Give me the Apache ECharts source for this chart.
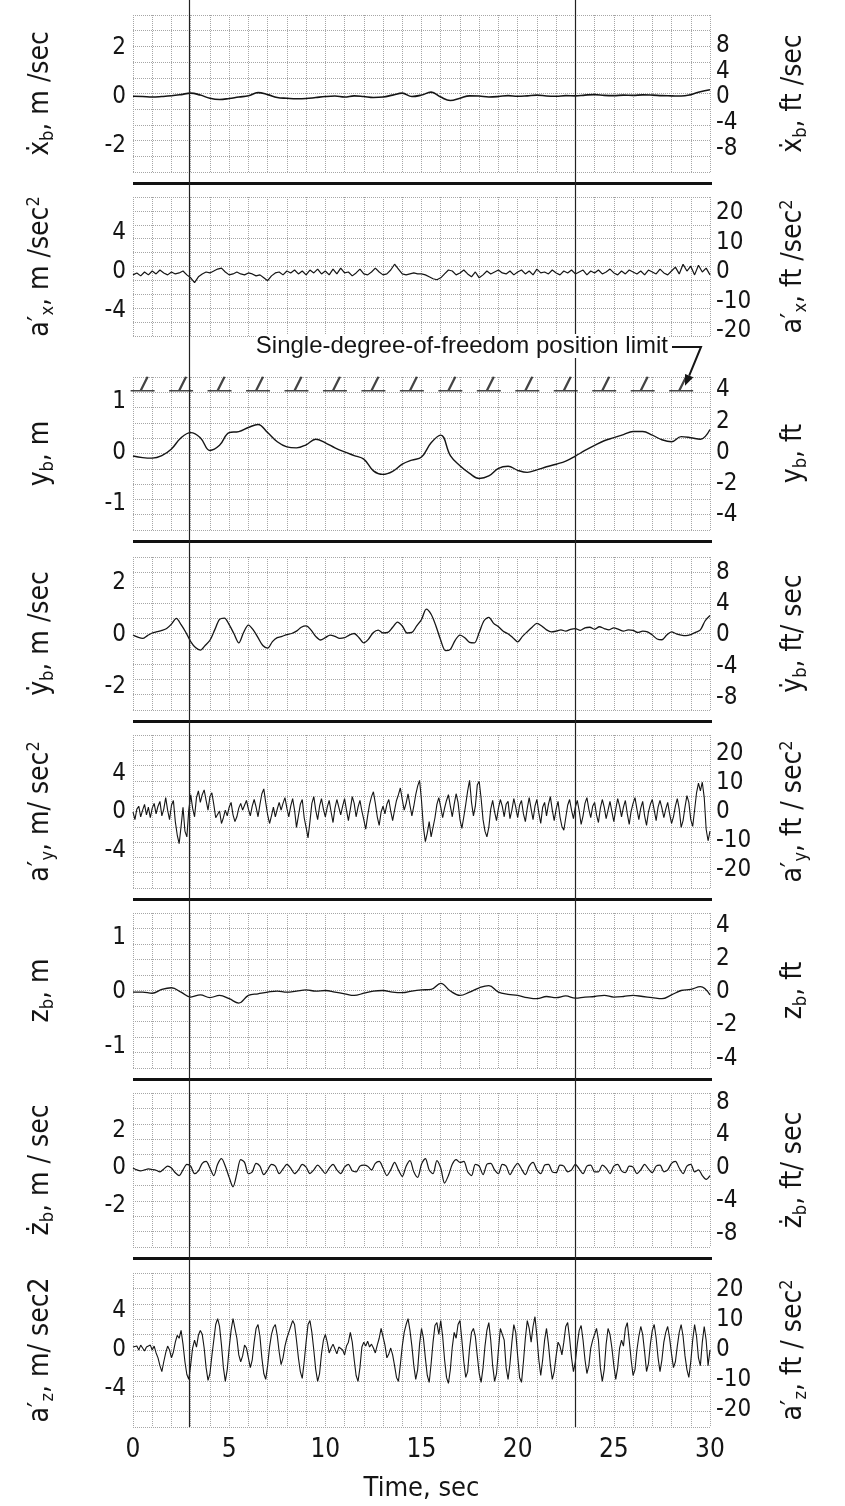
<!DOCTYPE html>
<html><head><meta charset="utf-8">
<script src="https://cdn.jsdelivr.net/npm/echarts@6/dist/echarts.min.js"></script>
<style>html,body{margin:0;padding:0;background:#fff}#c{width:845px;height:1506px}</style>
</head><body><div id="c"></div>
<script>
// ---------- data ----------
const timeTicks = [0, 5, 10, 15, 20, 25, 30];
const eventTimes = [2.9, 23.0];
const limitTimes = [0.5, 2.5, 4.5, 6.5, 8.5, 10.5, 12.5, 14.5, 16.5, 18.5, 20.5, 22.5, 24.5, 26.5, 28.5];
const positionLimit = 1.22; // m (4 ft)

const xbDotStep = 0.5;
const xbDot = [0.03,0.02,0.0,0.02,0.05,0.1,0.16,0.08,-0.05,-0.1,
 -0.06,0.0,0.05,0.18,0.1,-0.02,-0.05,-0.07,-0.06,-0.02,
 0.02,0.04,0.0,0.05,0.02,-0.02,0.0,0.08,0.16,0.02,
 0.08,0.2,0.0,-0.14,-0.05,0.05,0.04,0.0,0.02,0.06,
 0.03,0.05,0.08,0.04,0.03,0.06,0.05,0.08,0.1,0.07,
 0.06,0.08,0.07,0.09,0.08,0.06,0.05,0.04,0.1,0.22,
 0.3];

const axPrimeStep = 0.2;
const axPrime = [-0.3,-0.1,-0.4,0.0,-0.3,0.1,-0.2,0.2,-0.1,-0.3,0.0,
 -0.2,-0.1,0.1,-0.3,-0.6,-1.1,-0.5,-0.2,0.0,-0.1,
 0.1,0.3,0.4,0.0,-0.3,-0.2,0.0,-0.2,-0.3,-0.1,
 -0.2,-0.4,-0.3,-0.6,-0.9,-0.4,-0.1,0.0,-0.3,0.1,
 -0.1,0.2,-0.2,0.1,-0.3,0.2,-0.1,0.3,-0.2,0.1,
 -0.3,0.3,-0.2,0.4,-0.1,0.0,-0.4,-0.1,0.3,-0.2,
 -0.3,0.0,0.4,0.0,-0.3,-0.2,0.2,0.8,0.3,-0.2,
 -0.3,-0.2,-0.1,-0.2,-0.2,-0.3,-0.5,-0.7,-0.8,-0.6,
 -0.2,0.2,0.1,-0.3,-0.1,0.2,-0.2,-0.5,0.0,-0.6,
 -0.3,0.1,-0.2,0.0,0.2,-0.1,-0.2,0.1,-0.3,0.0,
 0.2,-0.2,0.1,-0.3,0.3,-0.1,0.0,-0.2,0.2,-0.1,
 -0.3,0.1,-0.1,0.2,-0.2,0.0,0.2,-0.3,0.1,-0.1,
 0.2,-0.2,0.0,0.3,-0.1,-0.3,0.1,-0.2,0.2,0.0,
 -0.2,0.1,-0.3,0.2,0.0,-0.2,0.3,-0.1,-0.3,0.1,
 0.5,-0.2,0.8,0.1,0.6,-0.3,0.7,0.0,0.4,-0.3];

const ybStep = 0.5;
const yb = [-0.06,-0.09,-0.1,-0.05,0.08,0.3,0.4,0.3,0.05,0.15,
 0.4,0.42,0.5,0.56,0.4,0.22,0.12,0.1,0.16,0.27,
 0.2,0.1,0.02,-0.05,-0.12,-0.35,-0.42,-0.36,-0.22,-0.14,
 -0.08,0.2,0.35,-0.05,-0.25,-0.4,-0.5,-0.45,-0.3,-0.26,
 -0.34,-0.38,-0.33,-0.27,-0.22,-0.16,-0.06,0.05,0.15,0.24,
 0.3,0.36,0.42,0.42,0.35,0.26,0.22,0.32,0.3,0.27,
 0.46];

const ybDotStep = 0.25;
const ybDot = [0.0,-0.08,-0.13,-0.02,0.08,0.13,0.18,0.25,
 0.42,0.64,0.4,0.1,-0.25,-0.48,-0.58,-0.4,
 -0.2,0.2,0.6,0.65,0.4,0.05,-0.3,0.1,
 0.38,0.2,-0.1,-0.4,-0.5,-0.25,-0.1,-0.05,
 0.02,0.06,0.15,0.3,0.35,0.2,-0.05,-0.19,
 -0.1,0.0,-0.05,-0.13,-0.1,0.0,0.06,-0.1,
 -0.3,-0.15,0.1,0.19,0.08,0.1,0.3,0.5,
 0.35,0.08,0.1,0.35,0.6,1.0,0.8,0.35,
 -0.2,-0.6,-0.55,-0.2,0.0,-0.1,-0.28,-0.3,
 0.1,0.55,0.68,0.45,0.32,0.15,0.05,-0.1,
 -0.26,-0.05,0.13,0.3,0.45,0.35,0.2,0.12,
 0.15,0.2,0.15,0.22,0.25,0.18,0.28,0.3,
 0.22,0.32,0.25,0.2,0.28,0.22,0.15,0.2,
 0.18,0.1,0.15,0.12,0.0,-0.15,-0.18,0.0,
 0.12,0.05,0.0,-0.02,0.02,0.1,0.2,0.55,
 0.75];

const ayPrimeStep = 0.1;
const ayPrime = [0.0,-0.8,0.3,0.6,-0.5,0.2,0.8,-0.3,0.5,-0.6,
 0.4,0.9,-0.2,0.6,1.1,-0.4,0.3,1.5,0.2,-0.8,
 0.7,1.2,-1.0,-2.4,-3.3,-1.5,0.5,-2.0,-2.6,0.2,
 1.8,0.4,-0.5,1.5,2.2,1.0,1.8,2.3,1.2,0.2,
 1.6,2.0,0.8,-0.6,-0.8,0.1,-1.2,-0.6,0.2,-0.4,
 0.5,1.0,-0.3,-1.0,-0.5,0.4,0.9,0.2,0.7,1.2,
 0.3,-0.4,0.6,1.3,0.5,-0.5,0.8,1.9,2.4,1.0,
 -0.3,-1.2,-0.4,0.5,-0.5,0.3,1.0,0.2,0.9,1.5,
 0.4,-0.5,0.6,1.4,0.2,-1.6,-0.4,0.8,1.3,-0.6,
 -1.6,-2.7,-1.0,0.9,1.6,0.2,-0.8,0.6,1.4,0.3,
 -0.5,0.5,1.2,0.0,-1.1,0.4,1.3,0.5,-0.3,0.6,
 1.4,0.2,-0.9,0.3,1.6,0.9,-0.5,0.5,1.2,0.1,
 -0.8,-1.8,-0.4,0.8,1.6,2.1,0.9,-0.5,-1.4,0.0,
 0.6,-0.2,0.8,1.3,0.1,-0.9,0.2,1.2,1.8,2.5,
 1.3,0.2,0.9,1.9,0.7,-0.4,0.6,1.8,2.7,3.3,
 1.2,-1.6,-3.1,-2.2,-1.0,-2.6,-2.4,-0.6,0.8,1.5,
 0.5,-0.6,0.4,1.2,1.8,0.6,-0.5,0.8,1.9,1.0,
 -0.8,-1.7,-0.5,0.8,2.2,3.3,1.0,-0.4,0.6,2.8,
 3.2,1.4,-0.8,-2.0,-2.6,-1.6,0.3,1.2,0.0,-0.9,
 0.4,1.3,0.6,-0.5,0.8,1.1,-0.7,0.2,1.4,0.5,
 -0.6,0.7,1.2,-0.2,-1.0,0.4,1.5,0.3,-0.8,0.6,
 1.3,-0.1,-1.2,0.5,1.0,-0.4,0.8,1.6,0.2,-0.9,
 0.3,1.1,-0.5,-1.5,-1.9,-0.6,0.7,1.3,0.2,-0.7,
 0.5,1.2,0.1,-1.3,-0.4,0.9,1.5,0.3,-0.6,0.6,
 1.0,-0.3,-1.1,0.4,1.3,0.5,-0.7,0.2,1.1,0.0,
 -1.0,0.3,1.4,0.6,-0.5,0.5,1.2,-0.2,-1.3,0.1,
 0.9,1.5,0.3,-0.8,0.4,1.1,-0.4,-1.4,0.0,0.8,
 1.3,0.2,-0.9,0.5,1.2,0.4,-0.6,0.3,1.0,-0.2,
 -1.2,-0.5,0.6,1.4,0.3,-1.6,-0.9,0.5,1.7,1.0,
 -0.8,-1.5,0.2,2.0,3.0,2.2,3.1,1.5,-1.8,-3.0,
 -2.0];

const zbStep = 0.5;
const zb = [0.0,0.0,-0.02,0.05,0.08,0.0,-0.09,-0.05,-0.1,-0.06,
 -0.12,-0.2,-0.06,-0.03,0.0,0.02,0.0,0.02,0.04,0.02,
 0.03,0.0,-0.03,-0.06,-0.02,0.02,0.03,0.0,-0.01,0.02,
 0.04,0.05,0.16,0.02,-0.06,0.0,0.08,0.12,0.0,-0.04,
 -0.06,-0.1,-0.12,-0.08,-0.1,-0.07,-0.11,-0.09,-0.08,-0.06,
 -0.09,-0.08,-0.06,-0.08,-0.1,-0.12,-0.05,0.03,0.05,0.1,
 -0.05];

const zbDotStep = 0.2;
const zbDot = [0.0,-0.1,-0.15,-0.1,-0.05,-0.08,-0.12,-0.2,-0.05,0.1,
 0.0,-0.25,-0.4,-0.1,0.2,0.1,-0.3,-0.15,0.25,0.35,
 0.0,-0.4,0.2,0.5,0.1,-0.5,-1.0,-0.3,0.45,0.3,
 -0.3,-0.2,0.25,0.1,-0.35,-0.1,0.2,0.1,-0.3,-0.05,
 0.2,0.0,-0.3,-0.1,0.2,0.05,-0.3,-0.1,0.15,-0.05,
 -0.3,0.0,0.2,-0.1,-0.3,0.05,0.2,-0.15,-0.2,0.1,
 0.15,0.1,-0.1,0.25,0.35,0.0,-0.4,-0.1,0.3,-0.1,
 -0.45,0.1,0.4,-0.2,-0.5,0.2,0.5,-0.1,-0.3,0.4,
 0.0,-0.8,-0.4,0.2,0.45,0.3,0.35,-0.2,-0.4,0.2,
 0.1,-0.35,0.2,0.25,-0.1,-0.3,0.2,0.1,-0.35,0.0,
 0.25,-0.05,-0.35,0.1,0.3,-0.1,-0.3,0.15,0.2,-0.2,
 -0.25,0.15,0.1,-0.2,-0.1,0.2,-0.05,-0.3,0.1,0.15,
 -0.2,-0.2,0.15,0.0,-0.3,0.1,0.2,-0.15,-0.25,0.1,
 0.05,-0.3,-0.1,0.2,-0.05,-0.25,0.1,0.15,-0.2,-0.1,
 0.25,0.35,0.0,-0.3,0.1,0.2,-0.2,-0.1,-0.4,-0.6,
 -0.4];

const azPrimeStep = 0.1;
const azPrime = [0.3,0.1,0.4,0.0,0.5,0.2,-0.1,0.3,0.2,0.5,
 0.0,0.4,-0.3,-0.8,-1.6,-2.2,-1.2,-0.3,0.4,0.0,
 -0.8,-0.2,0.8,1.5,1.2,2.0,0.6,-1.2,-2.5,-3.0,
 -1.5,0.2,1.0,0.3,1.5,2.0,1.6,0.2,-1.8,-3.1,
 -2.4,-0.6,1.0,2.6,3.2,2.4,0.5,-1.8,-3.2,-2.0,
 0.2,2.0,3.2,3.0,1.2,-0.5,-1.2,-0.6,0.5,0.2,
 -0.8,-1.8,-1.0,0.8,2.2,2.6,1.4,-0.8,-2.4,-3.0,
 -1.6,0.3,1.6,2.3,2.6,1.5,-0.2,-1.5,-0.8,0.4,
 1.2,1.8,2.4,3.0,2.6,1.0,-0.8,-2.2,-2.9,-1.2,
 0.8,2.6,3.0,1.8,0.0,-2.0,-3.2,-2.4,-0.4,1.0,
 1.6,0.8,-0.3,0.2,0.6,0.1,-0.4,0.3,0.5,0.0,
 -0.5,0.4,0.8,1.8,0.8,-1.0,-2.6,-3.2,-1.8,0.3,
 0.8,0.4,0.9,0.3,0.6,0.2,-0.3,0.5,1.2,2.2,
 2.0,0.5,-0.8,-0.4,0.2,-0.5,-1.6,-2.8,-3.2,-1.5,
 0.4,1.8,2.6,3.2,2.0,0.4,-1.6,-3.0,-2.0,0.6,
 2.2,1.2,-0.8,-2.6,-3.3,-1.4,0.8,2.5,2.8,1.6,
 3.0,1.4,-1.0,-2.8,-3.4,-2.0,0.3,1.8,1.2,2.6,
 3.0,1.0,-1.2,-2.8,-2.2,0.2,1.8,2.2,1.4,-0.6,
 -2.4,-3.3,-1.8,0.4,2.0,2.8,1.0,-1.6,-3.2,-2.4,
 0.0,2.2,2.4,1.0,-1.8,-3.0,-1.4,0.8,2.6,1.8,
 -0.6,-2.8,-3.3,-1.2,1.2,3.0,2.2,0.8,2.4,3.4,
 1.4,-1.0,-2.6,-1.0,1.0,2.2,0.6,-1.5,-3.0,-2.2,
 -0.6,0.8,0.4,-0.5,0.8,2.4,2.8,1.2,-0.8,-2.2,
 -1.2,0.6,2.0,2.5,1.0,-1.0,-2.4,-1.6,0.2,1.0,
 1.6,2.2,1.0,-1.8,-3.2,-2.0,0.6,2.2,1.6,0.2,
 -1.6,-3.0,-1.8,0.2,1.0,0.4,2.2,2.8,1.0,-1.0,
 -2.6,-2.0,0.0,1.4,2.4,1.6,-0.2,-2.2,-1.4,0.6,
 2.0,2.6,1.2,-0.8,-2.2,-1.0,0.8,1.8,2.4,1.2,
 -0.4,-1.8,-1.2,0.4,1.8,2.6,1.4,-0.6,-2.0,-2.8,
 -1.2,1.0,2.6,1.4,-0.8,-1.6,0.8,2.4,1.0,-1.6,
 0.0];

// tick label sets
const leftTicks = [[-2,0,2],[-4,0,4],[-1,0,1],[-2,0,2],[-4,0,4],[-1,0,1],[-2,0,2],[-4,0,4]];
const rightTicks = [[-8,-4,0,4,8],[-20,-10,0,10,20],[-4,-2,0,2,4],[-8,-4,0,4,8],[-20,-10,0,10,20],[-4,-2,0,2,4],[-8,-4,0,4,8],[-20,-10,0,10,20]];

const leftNames = [
 '{m|ẋ}{s|b}{m|, m /sec}',
 '{m|a′}{s|x}{m|, m /sec}{p|2}',
 '{m|y}{s|b}{m|, m}',
 '{m|ẏ}{s|b}{m|, m /sec}',
 '{m|a′}{s|y}{m|, m/ sec}{p|2}',
 '{m|z}{s|b}{m|, m}',
 '{m|ż}{s|b}{m|, m / sec}',
 '{m|a′}{s|z}{m|, m/ sec2}'
];
const rightNames = [
 '{m|ẋ}{s|b}{m|, ft /sec}',
 '{m|a′}{s|x}{m|, ft /sec}{p|2}',
 '{m|y}{s|b}{m|, ft}',
 '{m|ẏ}{s|b}{m|, ft/ sec}',
 '{m|a′}{s|y}{m|, ft / sec}{p|2}',
 '{m|z}{s|b}{m|, ft}',
 '{m|ż}{s|b}{m|, ft/ sec}',
 '{m|a′}{s|z}{m|, ft / sec}{p|2}'
];

// ---------- layout / style ----------
const FONT = '"Liberation Sans Narrow","DejaVu Sans Condensed","Liberation Sans",sans-serif';
const WIDE = '"Liberation Sans","DejaVu Sans",sans-serif';
const INK = '#151515';
const GL = 133, GR = 135;
const panels = [
 {top:15,  height:157, lmin:-3.06, lmax:3.35, rmin:-11.7, rmax:12.8, vals:xbDot,   step:xbDotStep,   smooth:0.4, w:1.6},
 {top:197, height:139, lmin:-6.6,  lmax:7.73, rmin:-21.7, rmax:25.4, vals:axPrime, step:axPrimeStep, smooth:false, w:1.2},
 {top:377, height:153, lmin:-1.51, lmax:1.49, rmin:-4.97, rmax:4.84, vals:yb,      step:ybStep,      smooth:0.4, w:1.4},
 {top:557, height:153, lmin:-2.88, lmax:3.0,  rmin:-9.6,  rmax:10.0, vals:ybDot,   step:ybDotStep,   smooth:0.3, w:1.3},
 {top:735, height:153, lmin:-7.92, lmax:8.02, rmin:-26.2, rmax:26.6, vals:ayPrime, step:ayPrimeStep, smooth:false, w:1.1},
 {top:913, height:155, lmin:-1.39, lmax:1.45, rmin:-4.58, rmax:4.76, vals:zb,      step:zbStep,      smooth:0.4, w:1.3},
 {top:1093,height:154, lmin:-4.21, lmax:4.0,  rmin:-9.63, rmax:9.15, vals:zbDot,   step:zbDotStep,   smooth:0.3, w:1.2},
 {top:1273,height:154, lmin:-7.86, lmax:7.86, rmin:-25.7, rmax:25.7, vals:azPrime, step:azPrimeStep, smooth:false, w:1.1}
];
const sepAfter = [0, 2, 3, 4, 5, 6];

const rich = {
 m: {fontFamily: FONT, fontSize: 28, color: INK, lineHeight: 32, verticalAlign: 'middle'},
 s: {fontFamily: FONT, fontSize: 18, color: INK, lineHeight: 18, verticalAlign: 'bottom'},
 p: {fontFamily: FONT, fontSize: 18, color: INK, lineHeight: 18, verticalAlign: 'top'}
};
const dotted = {type: 'dotted', color: '#a6a6a6', width: 1};
const labelStyle = {fontFamily: FONT, fontSize: 24, color: INK};

const grid = [], xAxis = [], yAxis = [], series = [];
panels.forEach((p, i) => {
 grid.push({left: GL, right: GR, top: p.top, height: p.height});
 xAxis.push({
  gridIndex: i, type: 'value', min: 0, max: 30, interval: 1,
  axisLine: {show: false}, axisTick: {show: false},
  axisLabel: i === 7 ? Object.assign({customValues: timeTicks, margin: 10}, labelStyle, {fontSize: 26}) : {show: false},
  splitLine: {show: true, lineStyle: dotted},
  name: i === 7 ? 'Time, sec' : '', nameLocation: 'middle', nameGap: 48,
  nameTextStyle: {fontFamily: FONT, fontSize: 27, color: INK}
 });
 yAxis.push({
  gridIndex: i, type: 'value', position: 'left', min: p.lmin, max: p.lmax,
  axisLine: {show: false}, axisTick: {show: false}, splitLine: {show: false},
  axisLabel: Object.assign({customValues: leftTicks[i], margin: 7}, labelStyle),
  name: leftNames[i], nameLocation: 'middle', nameRotate: 90, nameGap: 76,
  nameTextStyle: {rich: rich}
 });
 yAxis.push({
  gridIndex: i, type: 'value', position: 'right', min: p.rmin, max: p.rmax,
  axisLine: {show: false}, axisTick: {show: false}, splitLine: {show: false},
  axisLabel: Object.assign({customValues: rightTicks[i], margin: 6}, labelStyle),
  name: rightNames[i], nameLocation: 'middle', nameRotate: 90, nameGap: 68,
  nameTextStyle: {rich: rich}
 });
 yAxis.push({
  gridIndex: i, type: 'value', min: 0, max: 10, interval: 1,
  axisLine: {show: false}, axisTick: {show: false}, axisLabel: {show: false},
  splitLine: {show: true, lineStyle: dotted}
 });
 series.push({
  type: 'line', xAxisIndex: i, yAxisIndex: 3 * i,
  data: p.vals.map((v, k) => [+(k * p.step).toFixed(3), v]),
  symbol: 'none', smooth: p.smooth, silent: true,
  lineStyle: {color: INK, width: p.w}
 });
});

// overlay grid for full-height event lines
grid.push({left: GL, right: GR, top: 0, height: 1427});
xAxis.push({gridIndex: 8, type: 'value', min: 0, max: 30, show: false});
yAxis.push({gridIndex: 8, type: 'value', min: 0, max: 1, show: false});
series.push({
 type: 'line', xAxisIndex: 8, yAxisIndex: 24,
 data: eventTimes.map(t => [t, 0.5]), symbol: 'none', lineStyle: {width: 0}, silent: true,
 markLine: {silent: true, symbol: ['none', 'none'], label: {show: false},
  lineStyle: {color: '#222', width: 1.2, type: 'solid'},
  data: eventTimes.map(t => ({xAxis: t}))}
});

// position-limit markers on y_b panel
series.push({
 type: 'scatter', xAxisIndex: 2, yAxisIndex: 6,
 data: limitTimes.map(t => [t, positionLimit]),
 symbol: 'path://M0,14 L24,14 M10,14 L17,0', symbolSize: [24, 14], symbolOffset: [0, -7],
 itemStyle: {color: 'rgba(0,0,0,0)', borderColor: INK, borderWidth: 1.8}, silent: true
});

const graphic = [];
sepAfter.forEach(i => {
 graphic.push({type: 'rect', silent: true, z: 5,
  shape: {x: GL, y: panels[i].top + panels[i].height + 10, width: 845 - GL - GR + 2, height: 3},
  style: {fill: '#111'}});
});
graphic.push({type: 'text', silent: true, z: 10, x: 668, y: 346,
 style: {text: 'Single-degree-of-freedom position limit', font: '24px ' + WIDE, fill: INK,
  align: 'right', verticalAlign: 'middle', backgroundColor: '#fff'}});

const chart = echarts.init(document.getElementById('c'), null, {renderer: 'canvas'});
chart.setOption({animation: false, backgroundColor: '#fff', grid, xAxis, yAxis, series, graphic});

// arrow from the label to the last limit marker
const tip = chart.convertToPixel({gridIndex: 2}, [limitTimes[limitTimes.length - 1] + 0.2, positionLimit]);
const tx = tip[0], ty = tip[1] - 5;
const cx = 701, cy = 347;
const ang = Math.atan2(ty - cy, tx - cx);
const hl = 11, hw = 4.5;
const bx = tx - hl * Math.cos(ang), by = ty - hl * Math.sin(ang);
graphic.push({type: 'polyline', silent: true, z: 10,
 shape: {points: [[672, 347], [cx, cy], [bx, by]]}, style: {stroke: INK, lineWidth: 2, fill: null}});
graphic.push({type: 'polygon', silent: true, z: 10,
 shape: {points: [[tx, ty], [bx + hw * Math.sin(ang), by - hw * Math.cos(ang)], [bx - hw * Math.sin(ang), by + hw * Math.cos(ang)]]},
 style: {fill: INK}});
chart.setOption({graphic});
</script></body></html>
